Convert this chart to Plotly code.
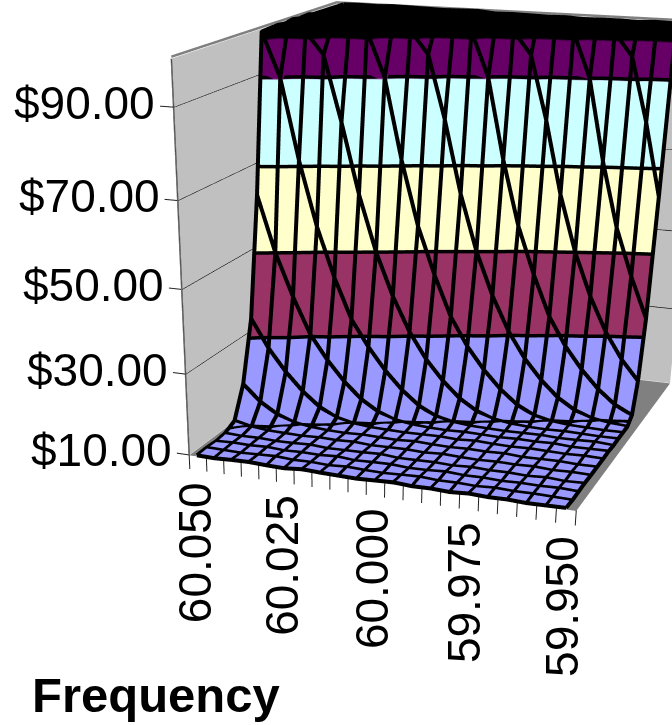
import numpy as np
import plotly.graph_objects as go

# Frequency categories along the front axis (Hz), price levels on the vertical axis
frequency = ["60.050", "60.045", "60.040", "60.035", "60.030", "60.025", "60.020",
             "60.015", "60.010", "60.005", "60.000", "59.995", "59.990", "59.985",
             "59.980", "59.975", "59.970", "59.965", "59.960", "59.955", "59.950"]
price_ticks = [10, 30, 50, 70, 90]
band_edges = [10.9, 30, 50, 70, 90]

# Price per MWh, one row per depth series, one column per frequency
row_00 = [10.2,10.1,10.3,10.4,10.2,10.1,10.5,10.3,10.2,10.1,10.3,10.5,10.2,10.3,10.1,10.4,10.2,10.3,10.1,10.2,10.3]
row_01 = [10.3,10.2,10.1,10.3,10.5,10.2,10.3,10.1,10.4,10.2,10.1,10.3,10.5,10.2,10.3,10.1,10.4,10.2,10.3,10.2,10.1]
row_02 = [10.1,10.3,10.2,10.4,10.1,10.3,10.2,10.5,10.1,10.3,10.4,10.1,10.2,10.5,10.2,10.3,10.1,10.3,10.2,10.4,10.2]
row_03 = [10.4,10.2,10.3,10.1,10.2,10.4,10.1,10.2,10.3,10.5,10.1,10.2,10.3,10.1,10.4,10.2,10.3,10.1,10.4,10.1,10.3]
row_04 = [11.8,10.8,10.3,10.2,10.1,10.3,10.2,10.4,10.1,10.2,10.3,10.1,10.4,10.2,10.1,10.3,10.2,10.4,10.1,10.3,10.2]
row_05 = [19.5,15.5,12.8,11.2,10.5,10.2,10.1,10.3,10.2,10.1,10.4,10.2,10.1,10.3,10.2,10.4,10.1,10.2,10.3,10.1,10.2]
row_06 = [34.5,27.5,22.0,17.5,14.0,11.8,10.8,10.3,10.2,10.1,10.2,10.3,10.1,10.4,10.2,10.1,10.3,10.2,10.1,10.3,10.2]
row_07 = [63.5,50.0,39.5,30.5,24.5,19.5,15.5,12.8,11.2,10.5,10.2,10.1,10.3,10.2,10.1,10.3,10.2,10.4,10.1,10.2,10.3]
row_08 = [100.0,90.0,71.4,56.0,44.0,34.0,27.5,22.0,17.5,14.0,11.8,10.8,10.3,10.2,10.1,10.2,10.3,10.1,10.2,10.4,10.1]
row_09 = [100.2,100.4,99.9,95.0,80.0,63.5,50.0,39.5,31.0,24.5,19.5,15.5,12.8,11.2,10.5,10.2,10.1,10.3,10.2,10.1,10.2]
row_10 = [100.3,100.1,100.5,100.0,100.2,100.0,90.0,71.4,56.0,44.5,34.5,27.5,22.0,17.5,14.0,11.8,10.8,10.3,10.2,10.1,10.2]
row_11 = [100.1,100.4,100.2,100.5,100.1,100.3,100.2,100.0,95.0,80.5,63.5,50.0,39.5,31.0,24.5,19.5,15.5,12.8,11.2,10.5,10.2]
row_12 = [100.5,100.2,100.3,100.1,100.4,100.2,100.5,100.1,100.3,100.2,100.0,90.0,71.4,56.0,44.5,34.5,27.5,22.0,17.5,14.0,11.8]
row_13 = [100.2,100.5,100.1,100.3,100.2,100.4,100.1,100.3,100.5,100.2,100.1,100.3,100.0,95.0,80.5,63.5,50.0,39.5,31.0,24.5,19.5]
row_14 = [100.3,100.1,100.4,100.2,100.5,100.1,100.3,100.2,100.1,100.4,100.2,100.5,100.3,100.1,100.2,100.0,90.0,71.4,56.0,44.5,34.5]
row_15 = [100.4,100.3,100.2,100.5,100.1,100.2,100.4,100.3,100.1,100.2,100.5,100.1,100.4,100.2,100.3,100.1,100.4,100.0,95.0,80.5,63.5]
row_16 = [100.1,100.2,100.5,100.3,100.4,100.2,100.1,100.5,100.2,100.3,100.1,100.4,100.2,100.5,100.1,100.3,100.2,100.4,100.1,100.2,100.0]
row_17 = [100.0,100.1,100.0,100.2,100.1,100.0,99.9,100.0,100.1,99.7,99.8,99.7,99.6,99.7,99.5,99.6,99.6,99.5,99.7,99.6,99.5]
prices = np.array([row_00, row_01, row_02, row_03, row_04, row_05, row_06, row_07, row_08,
                   row_09, row_10, row_11, row_12, row_13, row_14, row_15, row_16, row_17])

# Depth of each series along the side axis, as a share of the axis
depth_share = [0.0, 0.055, 0.11, 0.165, 0.225, 0.285, 0.345, 0.40, 0.45, 0.50, 0.55,
               0.60, 0.645, 0.685, 0.72, 0.75, 0.78, 0.995]

rows, cols = prices.shape
col_pos = np.arange(cols, dtype=float)

# Extent of the plot box in category units
X0, X1 = -0.5, cols - 0.5
Y0, Y1 = 0.0, 17.2
Z0, Z1 = 10.0, 100.0
row_pos = np.array(depth_share) * Y1
x_range = [X0 - 1.0, X1 + 0.1]
y_range = [Y0 - 0.3, Y1 + 0.1]
z_range = [Z0 - 4.5, Z1 + 1.5]

# Viewing geometry expressed in a box of unit width centred on the origin
BOX = np.array([1.0, 1.0052, 0.9404])
EYE = np.array([1.4096, -4.2886, 1.1020])
AIM = np.array([0.6908, -2.4673, 0.0])
spans = np.array([X1 - X0, Y1 - Y0, Z1 - Z0])
lows = np.array([X0, Y0, Z0])
ranges = np.array([x_range, y_range, z_range])
mid_norm = ((ranges[:, 0] + ranges[:, 1]) / 2 - lows) / spans
aspect = BOX * (ranges[:, 1] - ranges[:, 0]) / spans
shift = (mid_norm - 0.5) * BOX
eye = EYE - shift
aim = AIM - shift


def segments(items):
    """Join polylines into one x/y/z triple with gaps between them."""
    xs, ys, zs = [], [], []
    for px, py, pz in items:
        xs += list(px) + [None]
        ys += list(py) + [None]
        zs += list(pz) + [None]
    return xs, ys, zs


def line_trace(items, color, width):
    xs, ys, zs = segments(items)
    return go.Scatter3d(x=xs, y=ys, z=zs, mode="lines", hoverinfo="skip", showlegend=False,
                        line=dict(color=color, width=width))


def panel(px, py, pz, color):
    return go.Surface(x=px, y=py, z=pz, surfacecolor=np.zeros_like(pz), showscale=False,
                      colorscale=[[0, color], [1, color]], hoverinfo="skip",
                      lighting=dict(ambient=1, diffuse=0, specular=0, fresnel=0, roughness=1))


def level_line(level):
    """Trace one price level over the grid, ordered from left to right."""
    pts = []
    for k in range(rows):
        for i in range(cols - 1):
            a, b = prices[k, i], prices[k, i + 1]
            if (a - level) * (b - level) < 0:
                pts.append((i + (level - a) / (b - a), row_pos[k]))
    for i in range(cols):
        for k in range(rows - 1):
            a, b = prices[k, i], prices[k + 1, i]
            if (a - level) * (b - level) < 0:
                pts.append((float(i), row_pos[k] + (level - a) / (b - a) * (row_pos[k + 1] - row_pos[k])))
    pts.sort()
    return [p[0] for p in pts], [p[1] for p in pts], [level] * len(pts)


DY, DZ = -0.06, 0.12   # lifts the mesh just clear of the surface it lies on
fig = go.Figure()

# Side wall, back wall and floor
fig.add_trace(panel([[X0, X0], [X0, X0]], [[Y0, Y1], [Y0, Y1]], [[Z0, Z0], [Z1, Z1]], "#C0C0C0"))
fig.add_trace(panel([[X0, X1], [X0, X1]], [[Y1, Y1], [Y1, Y1]], [[Z0, Z0], [Z1, Z1]], "#C0C0C0"))
fig.add_trace(panel([[X0, X1], [X0, X1]], [[Y0, Y0], [Y1, Y1]], [[Z0 - 0.1] * 2, [Z0 - 0.1] * 2], "#808080"))

# Gridlines on the walls, tick marks and wall edges
grid = []
for v in price_ticks[1:]:
    grid.append(([X0, X0, X1], [Y0, Y1, Y1], [v, v, v]))
ticks = [([X0 - 0.72, X0], [Y0, Y0], [v, v]) for v in price_ticks]
ticks += [([X0 + j, X0 + j], [Y0, Y0], [Z0, Z0 - 3.6]) for j in range(cols + 1)]
fig.add_trace(line_trace(grid, "#000000", 2))
fig.add_trace(line_trace(ticks, "#202020", 2))
fig.add_trace(line_trace([([X0, X0], [Y0, Y0], [Z0, Z1])], "#505050", 3))
fig.add_trace(line_trace([([X0, X0, X1], [Y0, Y1, Y1], [Z1 + 0.4, Z1 + 0.4, Z1 + 0.4])], "#808080", 5))

# Price surface, coloured by $20 bands
band_scale = [[0.0, "#9999FF"], [0.2, "#9999FF"], [0.2, "#993366"], [0.4, "#993366"],
              [0.4, "#FFFFCC"], [0.6, "#FFFFCC"], [0.6, "#CCFFFF"], [0.8, "#CCFFFF"],
              [0.8, "#660066"], [0.885, "#660066"], [0.885, "#000000"], [1.0, "#000000"]]
fig.add_trace(go.Surface(x=col_pos, y=row_pos, z=prices, surfacecolor=prices, cmin=10, cmax=110,
                         colorscale=band_scale, showscale=False, hoverinfo="skip",
                         lighting=dict(ambient=1, diffuse=0, specular=0, fresnel=0, roughness=1)))

# Mesh lines along both grid directions, then the band boundaries
mesh = [(col_pos, np.full(cols, row_pos[k] + DY), prices[k] + DZ) for k in range(rows)]
mesh += [(np.full(rows, float(i)), row_pos + DY, prices[:, i] + DZ) for i in range(cols)]
fig.add_trace(line_trace(mesh, "#000000", 8))
contours = []
for level in band_edges:
    lx, ly, lz = level_line(level)
    contours.append((lx, [v + DY for v in ly], [v + DZ for v in lz]))
fig.add_trace(line_trace(contours, "#000000", 7))

# Axis labels carried by the scene so they follow the camera
labels = []
for v in price_ticks:
    labels.append(dict(x=X0 - 0.72, y=Y0, z=v, text=f"${v:.2f}", showarrow=False, xanchor="right",
                       yanchor="middle", xshift=-3, yshift=3,
                       font=dict(family="Liberation Sans", size=46, color="#000000")))
for i in range(0, cols, 5):
    labels.append(dict(x=col_pos[i], y=Y0, z=Z0 - 3.6, text=frequency[i], showarrow=False, textangle=-90,
                       xanchor="center", yanchor="top", xshift=-4, yshift=-10,
                       font=dict(family="Liberation Sans", size=46, color="#000000")))

hidden = dict(visible=False, showgrid=False, zeroline=False, showticklabels=False, showspikes=False,
              showbackground=False, title="")
FIG_W, FIG_H = 686, 1468
fig.update_layout(
    width=FIG_W, height=FIG_H, autosize=False, margin=dict(l=0, r=0, t=0, b=0),
    paper_bgcolor="#FFFFFF", showlegend=False,
    scene=dict(
        domain=dict(x=[0, 1], y=[0, 1]),
        xaxis=dict(range=x_range, **hidden),
        yaxis=dict(range=y_range, **hidden),
        zaxis=dict(range=z_range, **hidden),
        aspectmode="manual",
        aspectratio=dict(x=aspect[0], y=aspect[1], z=aspect[2]),
        camera=dict(eye=dict(x=eye[0], y=eye[1], z=eye[2]),
                    center=dict(x=aim[0], y=aim[1], z=aim[2]),
                    up=dict(x=-0.0019, y=0, z=1),
                    projection=dict(type="perspective")),
        annotations=labels,
    ),
    annotations=[dict(text="<b>Frequency</b>", xref="paper", yref="paper", x=30 / FIG_W, y=1 - 666 / FIG_H,
                      xanchor="left", yanchor="top", showarrow=False,
                      font=dict(family="Liberation Sans", size=49, color="#000000"))],
)
fig.write_html("out.html", config=dict(displayModeBar=False),
               post_script="document.documentElement.style.overflow='hidden';document.body.style.overflow='hidden';")
